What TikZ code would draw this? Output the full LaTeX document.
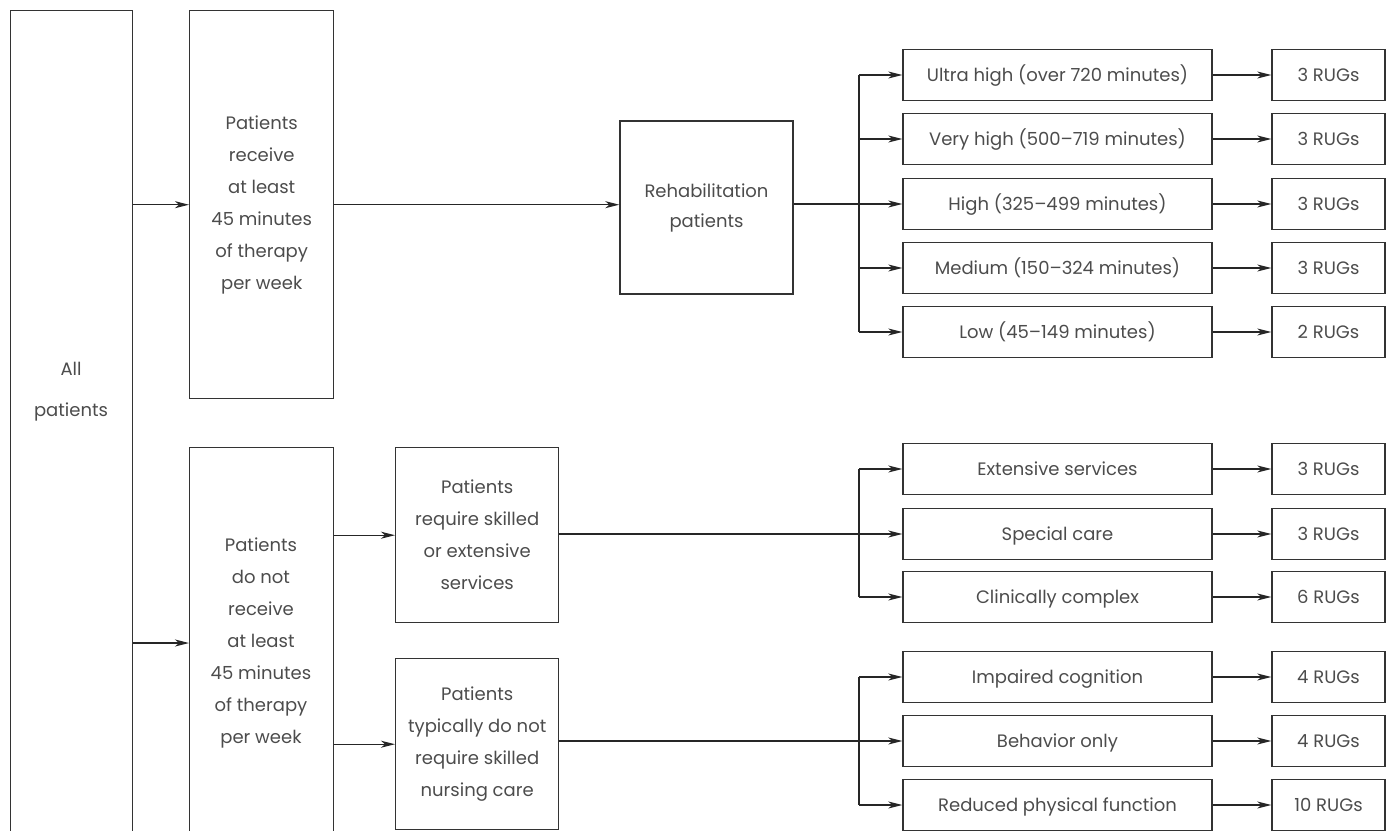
\documentclass[tikz,border=0pt]{standalone}
\usepackage{fontspec}
\setmainfont{Poppins}
\usetikzlibrary{arrows.meta}

\tikzset{
  box/.style={draw=black!80, line width=1.4pt, inner sep=0pt, align=center,
    text=black!70, font=\fontsize{18}{32}\selectfont},
  txt/.style={inner sep=0pt, align=center, text=black!70, font=\fontsize{18}{32}\selectfont},
  catbox/.style={box, minimum width=309pt, minimum height=51pt, text height=13pt, text depth=0pt},
  rugbox/.style={box, minimum width=113pt, minimum height=51pt, text height=13pt, text depth=0pt},
  arr/.style={draw=black!85, line width=1.4pt, -{Stealth[length=14pt,width=7pt,inset=4pt]}},
  ln/.style={draw=black!85, line width=1.4pt},
}

\begin{document}
\begin{tikzpicture}[x=1pt,y=-1pt]
    \useasboundingbox (0,0) rectangle (1394,830);
    \clip (0,0) rectangle (1394,830);

    % Primera columna
    \node[box, minimum width=122pt, minimum height=900pt, anchor=north west] (all) at (10,10) {};
    \node[txt, font=\fontsize{18}{41}\selectfont] (alltxt) at (71,392) {All\\patients};

    % Segunda columna
    \node[box, minimum width=144pt, minimum height=388pt, anchor=north west] (recv) at (189,10)
        {Patients\\receive\\at least\\45 minutes\\of therapy\\per week};
    \node[box, minimum width=144pt, minimum height=450pt, anchor=north west] (norecv) at (189,447) {};
    \node[txt] (nrtxt) at (261,643)
        {Patients\\do not\\receive\\at least\\45 minutes\\of therapy\\per week};

    % Tercera columna
    \node[box, minimum width=173pt, minimum height=173pt, font=\fontsize{18}{30}\selectfont] (rehab)
        at (706.5,207.5) {Rehabilitation\\patients};
    \node[box, minimum width=163pt, minimum height=175pt, anchor=north west] (skilled) at (395,447)
        {Patients\\require skilled\\or extensive\\services};
    \node[box, minimum width=163pt, minimum height=171pt, anchor=north west] (typical) at (395,658)
        {Patients\\typically do not\\require skilled\\nursing care};

    % Categorias
    \node[catbox] (c1) at (1057.5,75) {Ultra high (over 720 minutes)};
    \node[catbox] (c2) at (1057.5,139) {Very high (500--719 minutes)};
    \node[catbox] (c3) at (1057.5,204) {High (325--499 minutes)};
    \node[catbox] (c4) at (1057.5,268) {Medium (150--324 minutes)};
    \node[catbox] (c5) at (1057.5,332) {Low (45--149 minutes)};
    \node[catbox] (c6) at (1057.5,469) {Extensive services};
    \node[catbox] (c7) at (1057.5,534) {Special care};
    \node[catbox] (c8) at (1057.5,597) {Clinically complex};
    \node[catbox] (c9) at (1057.5,677) {Impaired cognition};
    \node[catbox] (c10) at (1057.5,741) {Behavior only};
    \node[catbox] (c11) at (1057.5,805) {Reduced physical function};

    % RUGs
    \node[rugbox] (r1) at (1328.5,75) {3 RUGs};
    \node[rugbox] (r2) at (1328.5,139) {3 RUGs};
    \node[rugbox] (r3) at (1328.5,204) {3 RUGs};
    \node[rugbox] (r4) at (1328.5,268) {3 RUGs};
    \node[rugbox] (r5) at (1328.5,332) {2 RUGs};
    \node[rugbox] (r6) at (1328.5,469) {3 RUGs};
    \node[rugbox] (r7) at (1328.5,534) {3 RUGs};
    \node[rugbox] (r8) at (1328.5,597) {6 RUGs};
    \node[rugbox] (r9) at (1328.5,677) {4 RUGs};
    \node[rugbox] (r10) at (1328.5,741) {4 RUGs};
    \node[rugbox] (r11) at (1328.5,805) {10 RUGs};

    \coordinate (t) at (859,0);

    % Flechas principales
    \draw[arr] (all.east |- recv.east) -- (recv.west);
    \draw[arr] (all.east |- nrtxt) -- (nrtxt -| norecv.west);
    \draw[arr] (recv.east) -- (recv.east -| rehab.west);
    \draw[arr] (norecv.east |- skilled.west) -- (skilled.west);
    \draw[arr] (norecv.east |- typical.west) -- (typical.west);

    % Rehabilitacion
    \draw[arr] (rehab.east |- c3.west) -- (c3.west);
    \draw[ln] (t |- c1.west) -- (t |- c5.west);
    \draw[arr] (t |- c1.west) -- (c1.west);
    \draw[arr] (t |- c2.west) -- (c2.west);
    \draw[arr] (t |- c4.west) -- (c4.west);
    \draw[arr] (t |- c5.west) -- (c5.west);

    % Servicios
    \draw[arr] (skilled.east |- c7.west) -- (c7.west);
    \draw[ln] (t |- c6.west) -- (t |- c8.west);
    \draw[arr] (t |- c6.west) -- (c6.west);
    \draw[arr] (t |- c8.west) -- (c8.west);

    % Cuidado no especializado
    \draw[arr] (typical.east |- c10.west) -- (c10.west);
    \draw[ln] (t |- c9.west) -- (t |- c11.west);
    \draw[arr] (t |- c9.west) -- (c9.west);
    \draw[arr] (t |- c11.west) -- (c11.west);

    % Hacia los RUGs
    \draw[arr] (c1) -- (r1);
    \draw[arr] (c2) -- (r2);
    \draw[arr] (c3) -- (r3);
    \draw[arr] (c4) -- (r4);
    \draw[arr] (c5) -- (r5);
    \draw[arr] (c6) -- (r6);
    \draw[arr] (c7) -- (r7);
    \draw[arr] (c8) -- (r8);
    \draw[arr] (c9) -- (r9);
    \draw[arr] (c10) -- (r10);
    \draw[arr] (c11) -- (r11);
\end{tikzpicture}
\end{document}
